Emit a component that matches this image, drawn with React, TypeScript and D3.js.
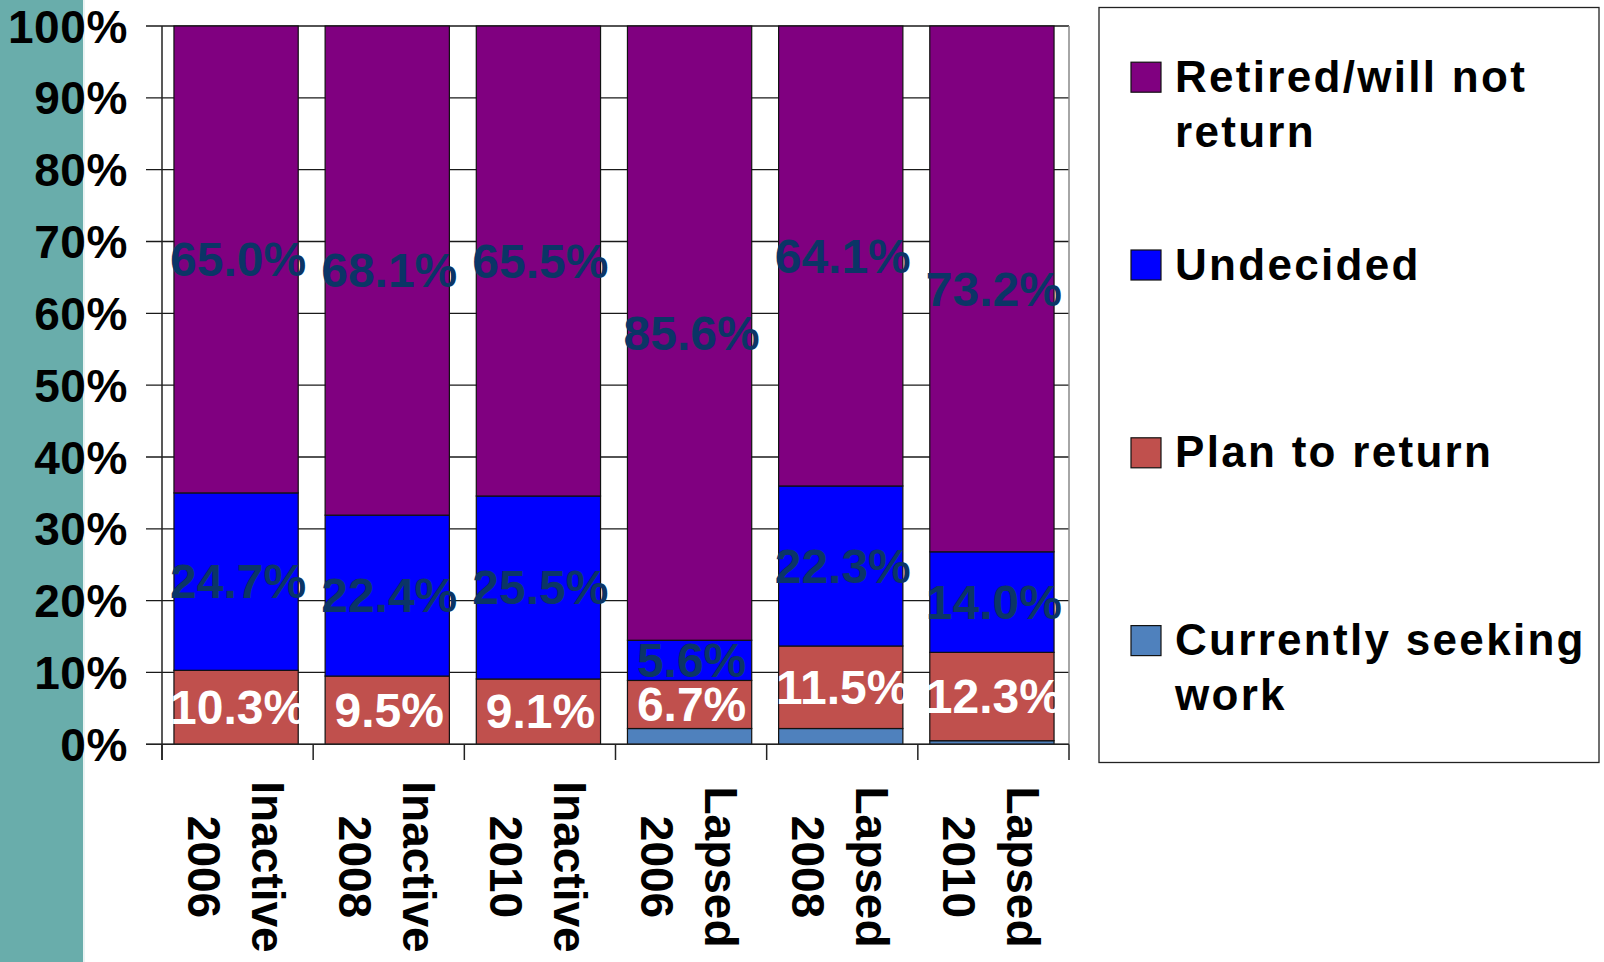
import React from "react";
import * as d3 from "d3";

const groups = ["Inactive", "Inactive", "Inactive", "Lapsed", "Lapsed", "Lapsed"];
const years = ["2006", "2008", "2010", "2006", "2008", "2010"];
const seeking = [0, 0, 0, 2.2, 2.2, 0.5];
const plan = [10.3, 9.5, 9.1, 6.7, 11.5, 12.3];
const undecided = [24.7, 22.4, 25.5, 5.6, 22.3, 14.0];
const retired = [65.0, 68.1, 65.5, 85.6, 64.1, 73.2];
const yTicks = [0, 0.1, 0.2, 0.3, 0.4, 0.5, 0.6, 0.7, 0.8, 0.9, 1.0];

const seriesKeys = ["seeking", "plan", "undecided", "retired"];
const seriesColors: Record<string, string> = {
  seeking: "#4F81BD",
  plan: "#C0504D",
  undecided: "#0000FF",
  retired: "#800080",
};
const labelColors: Record<string, string> = {
  plan: "#FFFFFF",
  undecided: "#0B3566",
  retired: "#0B3566",
};
const legendItems = [
  { key: "retired", lines: ["Retired/will not", "return"] },
  { key: "undecided", lines: ["Undecided"] },
  { key: "plan", lines: ["Plan to return"] },
  { key: "seeking", lines: ["Currently seeking", "work"] },
];

const FONT = "'Liberation Sans', Arial, Helvetica, sans-serif";

export default function App() {
  const W = 1604, H = 962;
  const left = 162, right = 1069, top = 26, bottom = 744.3;
  const cats = groups.map((g, i) => g + " " + years[i]);
  const rows = cats.map((c, i) => ({
    cat: c,
    seeking: seeking[i],
    plan: plan[i],
    undecided: undecided[i],
    retired: retired[i],
  }));
  const stack = d3.stack<any>().keys(seriesKeys).offset(d3.stackOffsetExpand);
  const series = stack(rows);

  const x = d3.scaleBand<string>().domain(cats).range([left, right]).paddingInner(0.178).paddingOuter(0.089);
  const y = d3.scaleLinear().domain([0, 1]).range([bottom, top]);
  const step = x.step();
  const bw = x.bandwidth();

  return (
    <svg width={W} height={H} style={{ position: "absolute", left: 0, top: 0, background: "#fff" }} fontFamily={FONT}>
      <rect x={0} y={0} width={83} height={H} fill="#69ADAB" />
      <line x1={84} y1={0} x2={84} y2={H} stroke="#E3EFEF" strokeWidth={1.5} />

      {/* gridlines */}
      {yTicks.map((t) => (
        <line key={"g" + t} x1={146} x2={right} y1={y(t)} y2={y(t)} stroke="#1a1a1a" strokeWidth={1.3} />
      ))}
      {/* right border */}
      <line x1={right} x2={right} y1={top} y2={bottom} stroke="#888" strokeWidth={1.5} />

      {/* bars */}
      {series.map((s) => (
        <g key={s.key} fill={seriesColors[s.key]}>
          {s.map((d, i) => {
            const h = y(d[0]) - y(d[1]);
            if (h <= 0.01) return null;
            return (
              <rect key={i} x={(x(cats[i]) as number) - 1.5} y={y(d[1])} width={bw} height={h} stroke="#111" strokeWidth={1.2} />
            );
          })}
        </g>
      ))}

      {/* axes */}
      <line x1={left} x2={left} y1={top} y2={760} stroke="#222" strokeWidth={1.5} />
      <line x1={146} x2={right} y1={bottom} y2={bottom} stroke="#222" strokeWidth={1.5} />
      {d3.range(cats.length + 1).map((i) => (
        <line key={"xt" + i} x1={left + i * step} x2={left + i * step} y1={bottom} y2={760} stroke="#222" strokeWidth={1.5} />
      ))}

      {/* y tick labels */}
      {yTicks.map((t) => (
        <text key={"yl" + t} x={128} y={y(t)} dy="0.36em" textAnchor="end" fontSize={46} fontWeight="bold" fill="#000" letterSpacing={0.6}>
          {d3.format(".0%")(t)}
        </text>
      ))}

      {/* data labels */}
      {series.filter((s) => s.key !== "seeking").map((s) => (
        <g key={"lab" + s.key}>
          {s.map((d, i) => {
            const raw = (rows[i] as any)[s.key] as number;
            const cx = (x(cats[i]) as number) - 1.5 + bw / 2 + 2;
            const cy = y((d[0] + d[1]) / 2);
            return (
              <text key={i} x={cx} y={cy} dy="0.35em" textAnchor="middle" fontSize={48} fontWeight="bold" fill={labelColors[s.key]}>
                {raw.toFixed(1) + "%"}
              </text>
            );
          })}
        </g>
      ))}

      {/* x labels */}
      {cats.map((c, i) => {
        const cx = (x(c) as number) + bw / 2;
        return (
          <g key={"xl" + i} transform={`translate(${cx + 14},867) rotate(90)`}>
            <text x={0} y={0} textAnchor="middle" fontSize={46} fontWeight="bold" fill="#000">{groups[i]}</text>
            <text x={0} y={64} textAnchor="middle" fontSize={46} fontWeight="bold" fill="#000">{years[i]}</text>
          </g>
        );
      })}

      {/* legend */}
      <rect x={1099} y={7.5} width={500} height={755} fill="#fff" stroke="#222" strokeWidth={1.3} />
      {legendItems.map((it, i) => {
        const base = 91.7 + 187.8 * i;
        return (
          <g key={"lg" + it.key}>
            <rect x={1131} y={base - 29.5} width={30} height={30} fill={seriesColors[it.key]} stroke="#111" strokeWidth={1.2} />
            {it.lines.map((ln, j) => (
              <text key={j} x={1175} y={base + 55 * j} fontSize={44} fontWeight="bold" fill="#000" letterSpacing={2.3}>
                {ln}
              </text>
            ))}
          </g>
        );
      })}
    </svg>
  );
}
